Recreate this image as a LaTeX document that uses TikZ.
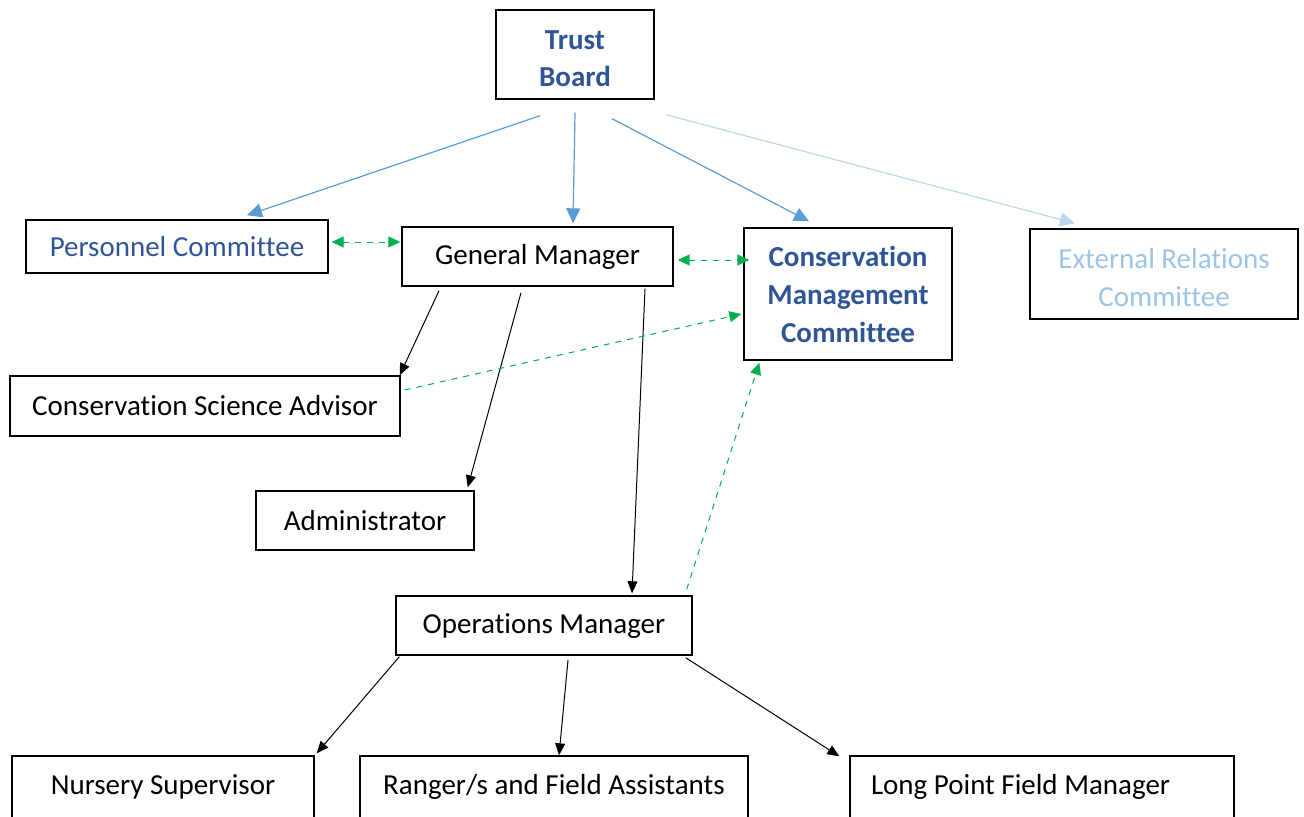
\documentclass[tikz,border=0pt]{standalone}
\usepackage{fontspec}
\setmainfont{Carlito}[Ligatures=NoCommon]
\usetikzlibrary{arrows.meta,calc}

\definecolor{boardblue}{HTML}{2F5597}
\definecolor{lineblue}{HTML}{5B9BD5}
\definecolor{paleblue}{HTML}{9DC3E6}
\definecolor{paleline}{HTML}{BDD7EE}
\definecolor{linkgreen}{HTML}{00B050}

\newcommand{\lowtwo}[2]{\raisebox{-3pt}[\height][\depth]{\begin{tabular}{@{}c@{}}#1\\#2\end{tabular}}}

\begin{document}
\begin{tikzpicture}[
  x=0.5pt, y=-0.5pt,
  every node/.style={font=\fontsize{14.5}{19}\selectfont},
  box/.style={rectangle, draw, line width=0.7pt, inner sep=0pt, align=center},
  report/.style={-{Triangle[length=7.5pt, width=7pt]}, line width=0.6pt, lineblue},
  palearrow/.style={-{Triangle[length=7.5pt, width=7pt]}, line width=0.6pt, paleline},
  arrow/.style={-{Triangle[length=6pt, width=5pt]}, line width=0.5pt},
  liaison/.style={{Triangle[length=6pt, width=5.5pt]}-{Triangle[length=6pt, width=5.5pt]}, dashed, line width=0.5pt, linkgreen},
  advise/.style={-{Triangle[length=6pt, width=5.5pt]}, dashed, line width=0.5pt, linkgreen}
]
\clip (0,0) rectangle (1304,816);

% Board and committees
\node[box, minimum width=79pt, minimum height=44.5pt, text=boardblue, font=\fontsize{14.5}{18.5}\selectfont\bfseries] (tb) at (575,54.5) {\lowtwo{Trust}{Board}};
\node[box, minimum width=151pt, minimum height=26.5pt, text=boardblue] (pc) at (177,246.5) {Personnel Committee};
\node[box, minimum width=104pt, minimum height=66pt, text=boardblue, font=\fontsize{14.5}{19}\selectfont\bfseries] (cmc) at (848,294) {Conservation\\Management\\Committee};
\node[box, minimum width=134pt, minimum height=45pt, text=paleblue] (erc) at (1164,274) {\lowtwo{External Relations}{Committee}};

% Staff
\node[box, minimum width=135.5pt, minimum height=29.5pt] (gm) at (537.5,256.5) {General Manager};
\node[box, minimum width=195pt, minimum height=30pt] (csa) at (205,406) {Conservation Science Advisor};
\node[box, minimum width=109pt, minimum height=29.5pt] (adm) at (365,520.5) {Administrator};
\node[box, minimum width=148pt, minimum height=29.5pt] (om) at (544,625.5) {Operations Manager};

% Field level
\node[box, minimum width=151pt, minimum height=31pt] (ns) at (163,787) {Nursery Supervisor};
\node[box, minimum width=194pt, minimum height=31pt] (rfa) at (554,787) {Ranger/s and Field Assistants};
\node[box, minimum height=31pt, text width=171pt, inner xsep=10.5pt, align=flush left] (lp) at (1042,787) {Long Point Field Manager};

% Board arrows
\draw[report] ($(tb.south)+(-35,16)$) -- ($(pc.north)+(70,-4)$);
\draw[report] ($(tb.south)+(0,13)$) -- ($(gm.north)+(35.5,-3)$);
\draw[report] ($(tb.south)+(37,19)$) -- ($(cmc.north)+(-39,-6)$);
\draw[palearrow] ($(tb.south)+(91,15)$) -- ($(erc.north)+(-89,-5)$);

% Line management
\draw[arrow] ($(gm.south)+(-98.5,4)$) -- ($(csa.north east)+(-1,0)$);
\draw[arrow] ($(gm.south)+(-16.5,6)$) -- ($(adm.north east)+(-7,-3)$);
\draw[arrow] ($(gm.south)+(107.5,2)$) -- ($(om.north)+(88,-2)$);
\draw[arrow] ($(om.south west)+(4,1)$) -- ($(ns.north east)+(2,-2)$);
\draw[arrow] ($(om.south)+(24,4.5)$) -- ($(rfa.north)+(5,0)$);
\draw[arrow] ($(om.south east)+(-7,2)$) -- ($(lp.north west)+(-10,1)$);

% Liaison (dashed)
\draw[liaison] ($(pc.east)+(3,-4.5)$) -- ($(gm.west)+(-1,-14.5)$);
\draw[liaison] ($(gm.east)+(4,3.5)$) -- ($(cmc.west)+(6,-34)$);
\draw[advise] ($(csa.east)+(4,-16)$) -- ($(cmc.west)+(-2,20)$);
\draw[advise] ($(om.north east)+(-6,-6)$) -- ($(cmc.south west)+(16,2)$);

\end{tikzpicture}
\end{document}
